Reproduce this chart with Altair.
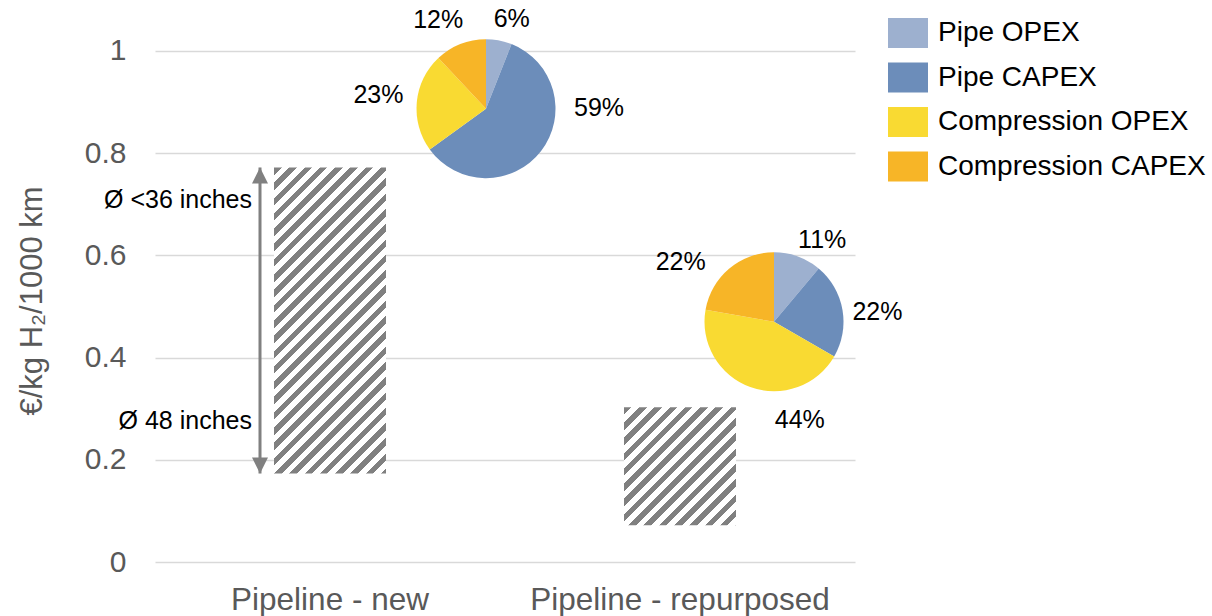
import math
import altair as alt
import pandas as pd

# ---------------- data ----------------
categories = ["Pipeline - new", "Pipeline - repurposed"]
range_low = [0.173, 0.072]
range_high = [0.772, 0.303]
cost_parts = ["Pipe OPEX", "Pipe CAPEX", "Compression OPEX", "Compression CAPEX"]
share_new = [6, 59, 23, 12]
share_repurposed = [11, 22, 44, 22]
pie_level = [0.887, 0.47]
annotation_text = ["Ø <36 inches", "Ø 48 inches"]
y_ticks = [0, 0.2, 0.4, 0.6, 0.8, 1]
y_title = "€/kg H₂/1000 km"

# ---------------- style ----------------
part_colors = ["#9DB0CF", "#6C8DBA", "#F9DA32", "#F7B527"]
PLOT_W, PLOT_H = 700, 552
Y_MAX = 1.08
BAR_W = 112
PIE_R = 69.5
PIE_SHIFT = [156, 94]
LABEL_R = 100
LABEL_NUDGE = [[(7, 9), (34, -62), (-8, -4), (-11, 4)],
               [(14, 12), (5, 8), (60, 4), (-29, 17)]]
HATCH_PERIOD = 15.3
HATCH_DUTY = 0.5
HATCH_COLOR = "#808080"
ARROW_COLOR = "#808080"
GRAY_TEXT = "#595959"
FONT = "Liberation Sans"


def x_enc():
    return alt.X(
        "category:N",
        scale=alt.Scale(domain=categories, paddingInner=0, paddingOuter=0),
        axis=alt.Axis(title=None, labelFontSize=31.5, labelColor=GRAY_TEXT, labelPadding=22,
                      ticks=False, domain=False, grid=False, labelAngle=0, labelFont=FONT,
                      labelLimit=600),
    )


def y_enc(field):
    return alt.Y(
        f"{field}:Q",
        stack=False,
        scale=alt.Scale(domain=[0, Y_MAX], nice=False, zero=True),
        axis=alt.Axis(values=y_ticks, format="~g", title=y_title, labelFontSize=30,
                      labelColor=GRAY_TEXT, labelPadding=29, ticks=False, domain=False,
                      grid=True, gridColor="#d9d9d9", gridWidth=1.5, titleFontSize=31,
                      titleColor=GRAY_TEXT, titleFontWeight="normal", titleAngle=270,
                      titleX=-123, titleY=290.5, titleAlign="center", titleBaseline="middle",
                      labelFont=FONT, titleFont=FONT),
    )


def hatch(lo, hi):
    w = BAR_W
    h = (hi - lo) * PLOT_H / Y_MAX
    L = w + h
    s = L / (w * w + h * h)
    stops = []
    n = int(math.ceil(L / HATCH_PERIOD))
    for i in range(n):
        a = round(min(i * HATCH_PERIOD / L, 1), 5)
        b = round(min((i + HATCH_DUTY) * HATCH_PERIOD / L, 1), 5)
        c = round(min((i + 1) * HATCH_PERIOD / L, 1), 5)
        stops += [{"offset": a, "color": HATCH_COLOR}, {"offset": b, "color": HATCH_COLOR},
                  {"offset": b, "color": "#ffffff"}, {"offset": c, "color": "#ffffff"}]
    return {"gradient": "linear", "x1": 0, "y1": 0, "x2": w * s, "y2": h * s, "stops": stops}


bar_df = pd.DataFrame({"category": categories, "low": range_low, "high": range_high})

layers = []

# hatched range bars
for i, cat in enumerate(categories):
    layers.append(
        alt.Chart(bar_df).transform_filter(f"datum.category == '{cat}'")
        .mark_bar(width=BAR_W, fill=hatch(range_low[i], range_high[i]), strokeWidth=0)
        .encode(x=x_enc(), y=y_enc("low"), y2="high:Q")
    )

new_only = alt.Chart(bar_df).transform_filter(f"datum.category == '{categories[0]}'")

# double arrow
layers.append(new_only.mark_rule(xOffset=-70, strokeWidth=3, color=ARROW_COLOR)
              .encode(x=x_enc(), y=y_enc("low"), y2="high:Q"))
layers.append(new_only.mark_point(shape="M0,-1L1,1L-1,1Z", size=256, filled=True, opacity=1,
                                  color=ARROW_COLOR, strokeWidth=0, xOffset=-70, yOffset=8)
              .encode(x=x_enc(), y=y_enc("high")))
layers.append(new_only.mark_point(shape="M0,1L1,-1L-1,-1Z", size=256, filled=True, opacity=1,
                                  color=ARROW_COLOR, strokeWidth=0, xOffset=-70, yOffset=-8)
              .encode(x=x_enc(), y=y_enc("low")))

# annotations
layers.append(new_only.mark_text(xOffset=-78, yOffset=33, align="right", baseline="middle",
                                 fontSize=25, color="black", font=FONT)
              .encode(x=x_enc(), y=y_enc("high"), text=alt.value(annotation_text[0])))
layers.append(new_only.mark_text(xOffset=-78, yOffset=-53, align="right", baseline="middle",
                                 fontSize=25, color="black", font=FONT)
              .encode(x=x_enc(), y=y_enc("low"), text=alt.value(annotation_text[1])))

color_enc = alt.Color(
    "part:N",
    scale=alt.Scale(domain=cost_parts, range=part_colors),
    legend=alt.Legend(title=None, orient="none", legendX=733, legendY=3, direction="vertical",
                      symbolType="M-1,-0.75H1V0.75H-1Z", symbolSize=1600, symbolStrokeWidth=0,
                      symbolOpacity=1, labelFontSize=28, labelColor="black", labelOffset=10,
                      rowPadding=9.5, padding=0, labelLimit=400, labelFont=FONT),
)

for ci, shares in enumerate([share_new, share_repurposed]):
    df = pd.DataFrame({"category": categories[ci], "part": cost_parts, "share": shares,
                       "idx": list(range(len(cost_parts))), "level": pie_level[ci]})
    stacked = (alt.Chart(df)
               .transform_joinaggregate(total="sum(share)")
               .transform_window(cum="sum(share)", sort=[alt.SortField("idx", order="ascending")])
               .transform_calculate(
                   a0="2*PI*(datum.cum - datum.share)/datum.total",
                   a1="2*PI*datum.cum/datum.total",
                   mid="2*PI*(datum.cum - datum.share/2)/datum.total",
                   label="datum.share + '%'"))
    layers.append(
        stacked.mark_arc(radius=PIE_R, xOffset=PIE_SHIFT[ci], strokeWidth=0)
        .encode(x=x_enc(), y=y_enc("level"),
                theta=alt.Theta("a0:Q", scale=None, stack=False), theta2="a1:Q",
                color=color_enc)
    )
    for j in range(len(cost_parts)):
        dx, dy = LABEL_NUDGE[ci][j]
        layers.append(
            stacked.transform_filter(f"datum.idx == {j}")
            .mark_text(radius=LABEL_R, xOffset=PIE_SHIFT[ci], dx=dx, dy=dy, fontSize=25,
                       color="black", align="center", baseline="middle", font=FONT)
            .encode(x=x_enc(), y=y_enc("level"),
                    theta=alt.Theta("mid:Q", scale=None, stack=False), text="label:N")
        )

chart = (
    alt.layer(*layers)
    .properties(width=PLOT_W, height=PLOT_H, autosize=alt.AutoSizeParams(type="none"),
                padding={"left": 155, "top": 10, "right": 357, "bottom": 54},
                background="white")
    .configure(font=FONT)
    .configure_view(stroke=None)
)

chart.save("out.html", embed_options={"renderer": "svg", "actions": False})
